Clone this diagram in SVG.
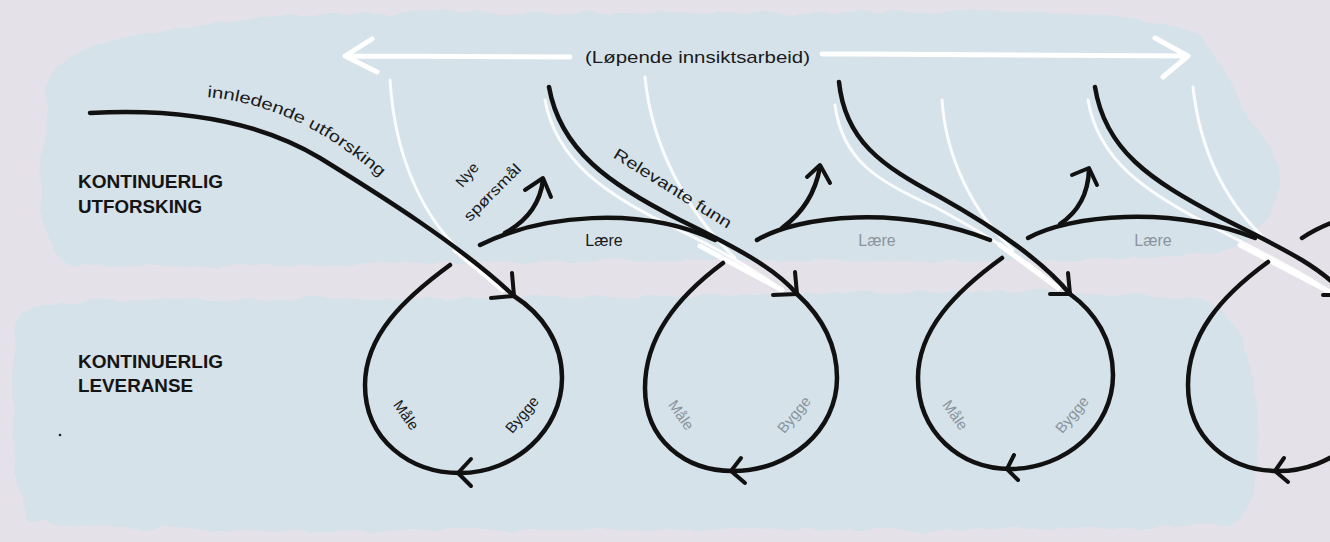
<svg xmlns="http://www.w3.org/2000/svg" width="1330" height="542" viewBox="0 0 1330 542">
<defs>
<filter id="torn" x="-5%" y="-10%" width="110%" height="120%">
<feTurbulence type="fractalNoise" baseFrequency="0.035" numOctaves="3" seed="4" result="n"/>
<feDisplacementMap in="SourceGraphic" in2="n" scale="10" xChannelSelector="R" yChannelSelector="G"/>
</filter>
<style>
.band{fill:#d5e2ea;filter:url(#torn)}
.ink{fill:none;stroke:#111;stroke-width:4.5;stroke-linecap:round;stroke-linejoin:round}
.head{fill:none;stroke:#111;stroke-width:4;stroke-linecap:round;stroke-linejoin:round}
.wh{fill:none;stroke:#fff;stroke-width:3;stroke-linecap:round;opacity:.9}
.whb{fill:none;stroke:#fff;stroke-width:5;stroke-linecap:round;stroke-linejoin:round}
.t{font-family:"Liberation Sans",Arial,sans-serif;fill:#1a1a1a}
.g{fill:#8a949c}
.h{font-family:"Liberation Sans",Arial,sans-serif;font-weight:bold;font-size:19px;fill:#141414}
</style>
</defs>
<rect width="1330" height="542" fill="#e4e2e8"/>

<g id="bands">
<path class="band" d="M45,95 C40,70 70,48 140,35 C200,22 260,18 330,14 C500,10 700,16 900,12 C1050,8 1150,15 1200,35 C1225,60 1240,110 1272,150 C1290,180 1275,215 1250,240 C1230,255 1150,258 1100,260 C900,262 700,258 500,262 C350,266 200,268 80,265 C50,262 42,240 40,200 C38,160 48,130 45,95 Z"/>
<path class="band" d="M15,330 C12,310 40,302 120,300 C300,297 600,299 800,293 C1000,290 1150,290 1210,302 C1240,320 1255,360 1258,420 C1260,470 1255,510 1230,525 C1000,532 700,530 400,530 C200,530 80,528 30,520 C15,500 12,450 13,400 Z"/>
</g>

<g id="connectors">
<!-- white highlight lines -->
<path class="wh" d="M390,80 C395,160 425,222 468,258"/>
<path class="whb" d="M455,250 L503,290"/>
<path class="wh" d="M645,77 C652,150 690,215 735,258"/>
<path class="wh" d="M942,100 C946,160 975,215 1013,250"/>
<path class="wh" d="M1193,87 C1200,150 1225,200 1262,236"/>
<path class="wh" d="M545,100 C556,160 605,195 675,228 C720,250 755,270 782,290"/>
<path class="whb" d="M700,246 L782,290"/>
<path class="wh" d="M835,105 C842,160 878,182 935,207 C985,234 1030,262 1058,288"/>
<path class="whb" d="M1000,245 L1058,288"/>
<path class="wh" d="M1088,100 C1098,160 1145,192 1213,227 C1265,254 1305,274 1330,292"/>
<path class="whb" d="M1240,245 L1330,292"/>
<!-- white timeline arrows -->
<path class="whb" d="M570,57 C500,57 420,56 345,56 M372,39 L345,56 L377,72"/>
<path class="whb" d="M822,54 C950,54 1080,55 1188,56 M1155,38 L1188,56 L1163,77"/>

<!-- initial exploration -->
<path class="ink" d="M90,113 C180,108 260,122 320,158 C380,195 460,245 514,296"/>
<path class="head" d="M512,273 L514,296 L491,298"/>
<!-- relevante funn curves -->
<path class="ink" d="M549,87 C560,150 610,185 680,220 C735,247 775,268 797,294"/>
<path class="head" d="M795,272 L797,294 L773,295"/>
<path class="ink" d="M839,82 C845,140 880,165 940,197 C990,225 1040,258 1070,294"/>
<path class="head" d="M1068,273 L1070,294 L1050,294"/>
<path class="ink" d="M1095,87 C1105,150 1150,180 1220,217 C1275,245 1320,265 1345,295"/>
<path class="head" d="M1343,273 L1345,295 L1323,295"/>
<!-- Lære curves -->
<path class="ink" d="M480,245 C540,215 640,205 715,240"/>
<path class="ink" d="M757,240 C800,215 900,205 990,240"/>
<path class="ink" d="M1028,238 C1070,215 1170,205 1255,238"/>
<path class="ink" d="M1302,238 Q1320,226 1345,218"/>
<!-- Nye spørsmål arrows -->
<path class="ink" d="M505,233 C525,222 540,205 543,180"/>
<path class="head" d="M525,190 L543,178 L551,197"/>
<path class="ink" d="M782,228 C800,215 815,195 820,167"/>
<path class="head" d="M807,177 L820,165 L830,183"/>
<path class="ink" d="M1060,224 C1078,212 1088,195 1089,170"/>
<path class="head" d="M1072,175 L1089,168 L1097,185"/>
<!-- delivery loops -->
<path class="ink" d="M450,265 C405,298 365,335 365,385 C365,440 410,473 460,473 C515,473 562,430 562,378 C562,342 542,314 514,296"/>
<path class="head" d="M471,459 L458,473 L471,486"/>
<path class="ink" d="M723,263 C676,298 645,338 645,388 C645,440 685,471 733,471 C790,471 837,430 837,378 C837,342 820,315 797,294"/>
<path class="head" d="M741,458 L731,471 L745,483"/>
<path class="ink" d="M1002,258 C955,292 918,330 918,378 C918,432 960,469 1010,469 C1065,469 1113,428 1113,375 C1113,340 1095,312 1070,294"/>
<path class="head" d="M1014,455 L1007,469 L1018,480"/>
<path class="ink" d="M1268,262 C1220,297 1188,335 1188,385 C1188,438 1228,471 1278,471 C1333,471 1380,430 1380,378 C1380,342 1365,315 1345,295"/>
<path class="head" d="M1284,458 L1275,471 L1288,482"/>
</g>

<g id="timeline-label"><text class="t" x="585" y="63" font-size="17" textLength="225" lengthAdjust="spacingAndGlyphs">(Løpende innsiktsarbeid)</text></g>

<g id="row-explore"><text class="h" x="78" y="188" textLength="145" lengthAdjust="spacingAndGlyphs">KONTINUERLIG</text><text class="h" x="78" y="213" textLength="124" lengthAdjust="spacingAndGlyphs">UTFORSKING</text></g>
<g id="row-deliver"><text class="h" x="78" y="368" textLength="145" lengthAdjust="spacingAndGlyphs">KONTINUERLIG</text><text class="h" x="78" y="392" textLength="115" lengthAdjust="spacingAndGlyphs">LEVERANSE</text></g>
<circle cx="60" cy="435" r="1.3" fill="#222"/>

<g id="label-innledende">
<path id="tp1" d="M207,97 C262,102 310,124 348,152 C368,166 384,180 396,193" fill="none"/>
<text class="t" font-size="16"><textPath href="#tp1" textLength="194" lengthAdjust="spacingAndGlyphs">innledende utforsking</textPath></text>
</g>
<g id="label-nye">
<text class="t" font-size="15" text-anchor="middle" transform="translate(471,178) rotate(-50)">Nye</text>
<text class="t" font-size="15" text-anchor="middle" transform="translate(496,196) rotate(-45)" textLength="74" lengthAdjust="spacingAndGlyphs">spørsmål</text>
</g>
<g id="label-relevante"><text class="t" font-size="16" text-anchor="middle" transform="translate(670,193) rotate(32)" textLength="136" lengthAdjust="spacingAndGlyphs">Relevante funn</text></g>
<g id="label-laere">
<text class="t" font-size="16" text-anchor="middle" x="604" y="246">Lære</text>
<text class="t g" font-size="16" text-anchor="middle" x="877" y="246">Lære</text>
<text class="t g" font-size="16" text-anchor="middle" x="1153" y="246">Lære</text>
</g>
<g id="loop-labels">
<text class="t" font-size="15" text-anchor="middle" transform="translate(402,418) rotate(55)">Måle</text>
<text class="t" font-size="15" text-anchor="middle" transform="translate(526,418) rotate(-50)">Bygge</text>
<text class="t g" font-size="15" text-anchor="middle" transform="translate(677,418) rotate(55)">Måle</text>
<text class="t g" font-size="15" text-anchor="middle" transform="translate(798,418) rotate(-50)">Bygge</text>
<text class="t g" font-size="15" text-anchor="middle" transform="translate(951,418) rotate(55)">Måle</text>
<text class="t g" font-size="15" text-anchor="middle" transform="translate(1076,418) rotate(-50)">Bygge</text>
</g>
</svg>
